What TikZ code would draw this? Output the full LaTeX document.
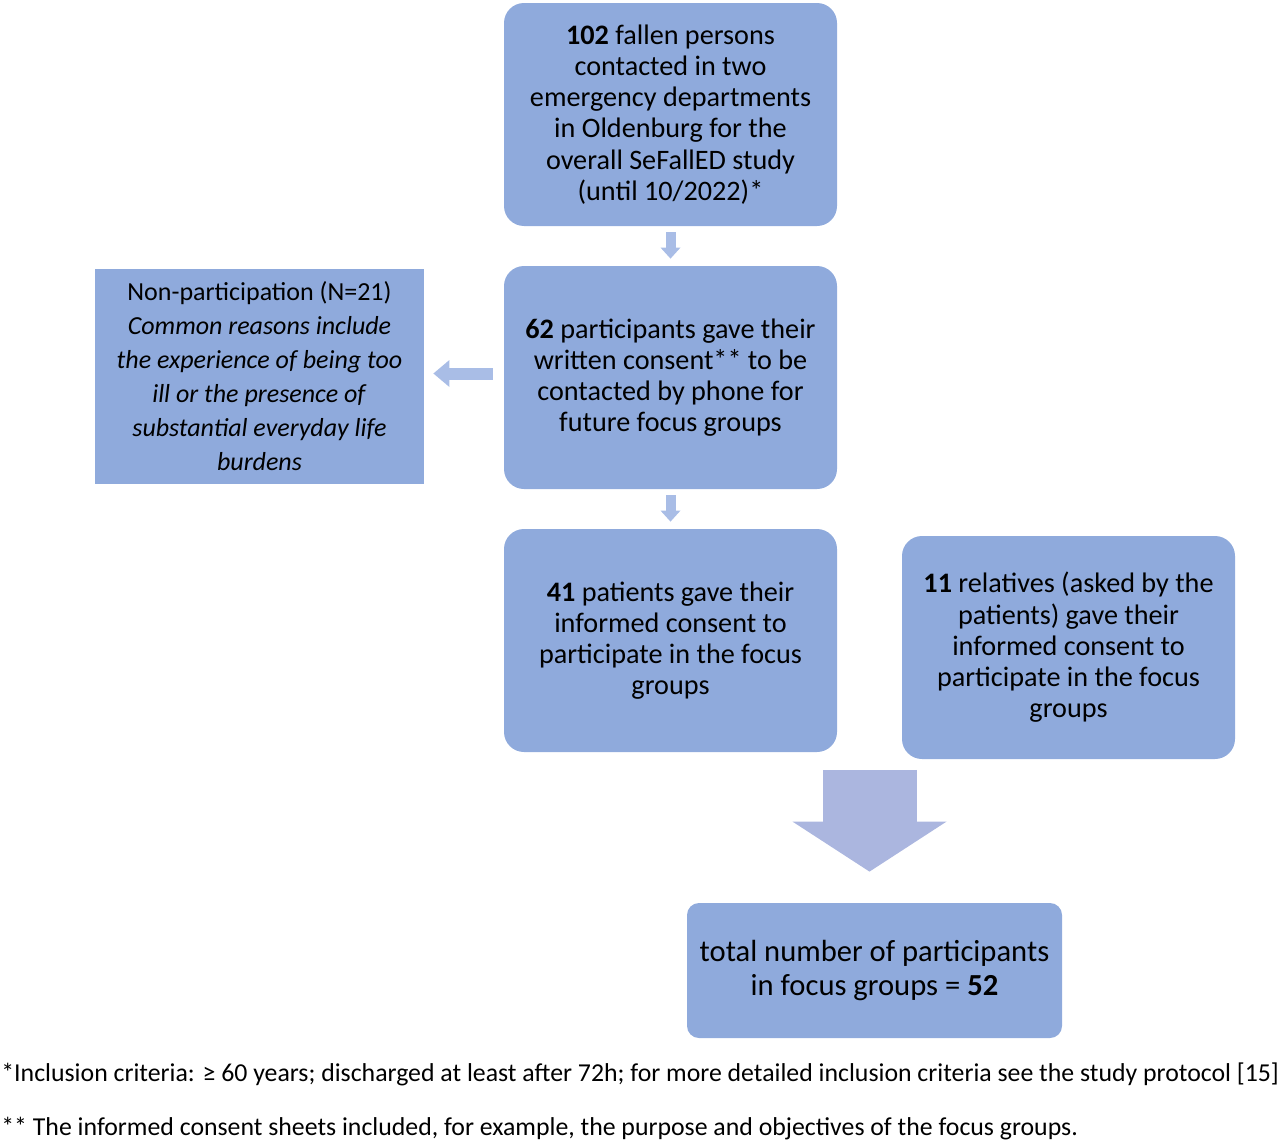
\documentclass[tikz,border=0pt]{standalone}
\usepackage{fontspec}
\setmainfont{Carlito}
\usetikzlibrary{arrows.meta,calc}
\definecolor{boxblue}{HTML}{8FAADC}
\definecolor{arrowblue}{HTML}{A9BDE6}
\definecolor{bigblue}{HTML}{ABB6DF}

\begin{document}
\begin{tikzpicture}[x=0.5pt,y=-0.5pt,
  box/.style={fill=boxblue,rounded corners=10pt,minimum width=166.5pt,minimum height=111.5pt,
    inner sep=0pt,align=center,font=\fontsize{14.1}{15.6}\selectfont},
  sqbox/.style={fill=boxblue,minimum width=164.5pt,minimum height=107.5pt,
    inner sep=0pt,align=center,font=\fontsize{13}{17}\selectfont},
  smallarrow/.style={draw=arrowblue,line width=5pt,-{Triangle[width=10pt,length=5.5pt,line width=0pt]}},
  sidearrow/.style={draw=arrowblue,line width=6pt,-{Triangle[width=13.5pt,length=8pt,line width=0pt]}},
  bigarrow/.style={draw=bigblue,line width=47pt,-{Triangle[width=77pt,length=25pt,line width=0pt]}},
  note/.style={anchor=base west,inner sep=0pt,font=\fontsize{12.9}{14}\selectfont}]
  \useasboundingbox (0,0) rectangle (1280,1140);

  \node[box] (top) at (670.5,114.5) {\textbf{102} fallen persons\\ contacted in two\\ emergency departments\\
    in Oldenburg for the\\ overall SeFallED study\\ (until 10/2022)*};
  \node[box] (consent) at (670.5,377.5) {\textbf{62} participants gave their\\ written consent** to be\\
    contacted by phone for\\ future focus groups};
  \node[sqbox] (nonpart) at (259.5,376.5) {Non-participation (N=21)\\ \textit{Common reasons include}\\
    \textit{the experience of being too}\\ \textit{ill or the presence of}\\ \textit{substantial everyday life}\\ \textit{burdens}};
  \node[box] (patients) at (670.5,640.5) {\textbf{41} patients gave their\\ informed consent to\\
    participate in the focus\\ groups};
  \node[box] (relatives) at (1068.5,647.5) {\textbf{11} relatives (asked by the\\ patients) gave their\\
    informed consent to\\ participate in the focus\\ groups};
  \node[box,rounded corners=6pt,minimum width=187.5pt,minimum height=67.5pt,font=\fontsize{15.3}{17}\selectfont]
    (total) at (874.5,970.5) {total number of participants\\ in focus groups = \textbf{52}};

  \draw[smallarrow] ($(top.south)+(0,6)$) -- ($(consent.north)+(0,-7)$);
  \draw[smallarrow] ($(consent.south)+(0,6)$) -- ($(patients.north)+(0,-7)$);
  \draw[sidearrow] ($(consent.west)+(-11,-4)$) -- ($(nonpart.east)+(9,-3)$);
  \draw[bigarrow] ($(patients.south)!0.5!(relatives.south)+(0,14)$) coordinate (join)
    -- ($(join |- total.north)+(0,-31)$);

  \node[note] (note1) at (1,1081) {*Inclusion criteria: ≥ 60 years; discharged at least after 72h; for more detailed inclusion criteria see the study protocol [15]};
  \node[note] (note2) at (1,1135) {** The informed consent sheets included, for example, the purpose and objectives of the focus groups.};
\end{tikzpicture}
\end{document}
